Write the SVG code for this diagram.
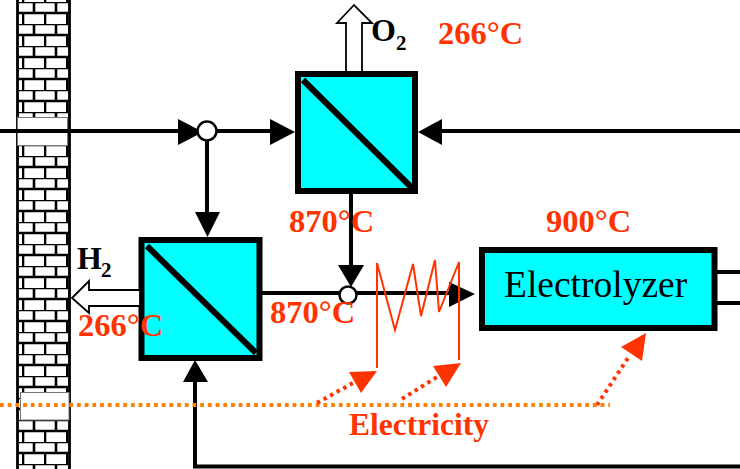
<svg xmlns="http://www.w3.org/2000/svg" width="740" height="469" viewBox="0 0 740 469">
<style>
.w{fill:none;stroke:#000;stroke-width:4}
.box{fill:#00ffff;stroke:#000;stroke-width:6}
.diag{stroke:#000;stroke-width:6;fill:none}
.hd{fill:#000;stroke:none}
.ring{fill:#fff;stroke:#000;stroke-width:2.5}
.hollow{fill:#fff;stroke:#000;stroke-width:1.8}
.open{fill:#fff;stroke:#777;stroke-width:1}
.or{fill:none;stroke:#ff8000;stroke-width:4;stroke-dasharray:3.8 3.9}
.rd{fill:none;stroke:#ff3300;stroke-width:4;stroke-dasharray:3.5 4}
.rl{fill:none;stroke:#ff3300;stroke-width:2}
.rh{fill:#ff3300}
text{font-family:"Liberation Serif","Times New Roman",serif}
.t{font-size:32.500px;font-weight:bold;fill:#ff3300}
.b{font-size:32px;font-weight:bold;fill:#000}
.s{font-size:21px;font-weight:bold;fill:#000}
</style>
<defs>
<pattern id="brick" patternUnits="userSpaceOnUse" x="0" y="2" width="22" height="22">
<rect width="22" height="22" fill="#fff"/>
<path d="M0 0H22M0 11H22M12 0V11M1 11V22" stroke="#000" stroke-width="2.600" fill="none"/>
</pattern>
</defs>
<g id="wall">
<rect x="17.500" y="-2" width="52" height="473" fill="url(#brick)" stroke="#000" stroke-width="2.800"/>
<rect x="17.500" y="117.500" width="50" height="28" class="open"/>
<rect x="20.500" y="392.500" width="48.500" height="27.500" class="open"/>
</g>
<g id="connectors">
<path class="w" d="M0 131H179M207 131H272M440 131H740"/>
<path class="w" d="M207 141V214M351 190V267M262 293H452"/>
<path class="w" d="M195 380V466.500H740"/>
<path class="w" d="M717 272H740M717 303H740"/>
<polygon class="hd" points="178,119 178,145 203,132"/>
<polygon class="hd" points="270,119 270,145 295,132"/>
<polygon class="hd" points="442,119 442,145 418,132"/>
<polygon class="hd" points="195,212 220,212 207.500,237"/>
<polygon class="hd" points="338,265 364,265 351,287"/>
<polygon class="hd" points="449,282 449,307 475,294"/>
<polygon class="hd" points="183,382 208,382 195,360"/>
<path class="or" d="M0 405H610"/>
<path class="rd" d="M317 403L353 383M402 399L437 377M597 405L628 358"/>
<polyline class="rl" points="377,368 377,263 395,330 413,264 421,316 435,260 439,312 459,262 459,360"/>
<polygon class="rh" points="349,372 377,371 361,393"/>
<polygon class="rh" points="433,366 461,363 446,387"/>
<polygon class="rh" points="646,333 621,347 642,361"/>
</g>
<g id="node-upper-exchanger">
<polygon class="hollow" points="354,5 337,23 346,23 346,74 362,74 362,23 372,23"/>
<rect class="box" x="298" y="74" width="117" height="117"/>
<line class="diag" x1="303" y1="80" x2="412" y2="188"/>
</g>
<g id="node-lower-exchanger">
<rect class="box" x="141.500" y="240" width="118" height="118"/>
<line class="diag" x1="147" y1="246" x2="256" y2="353"/>
<polygon class="hollow" points="72,298 89,281 89,290 140,290 140,306 89,306 89,313"/>
</g>
<g id="node-electrolyzer">
<rect class="box" x="482" y="250" width="232.500" height="78"/>
<text x="504" y="297" font-size="37.500" fill="#000">Electrolyzer</text>
</g>
<g id="node-junction-top"><circle class="ring" cx="207" cy="131" r="9.500"/></g>
<g id="node-junction-bottom"><circle class="ring" cx="348" cy="295" r="8.500"/></g>
<g id="labels">
<text class="b" x="371" y="41">O</text><text class="s" x="396" y="50">2</text>
<text class="b" x="77" y="269">H</text><text class="s" x="101" y="277">2</text>
<text class="t" x="438" y="44">266°C</text>
<text class="t" x="289" y="232">870°C</text>
<text class="t" x="546" y="232">900°C</text>
<text class="t" x="270" y="323">870°C</text>
<text class="t" x="78" y="336">266°C</text>
<text class="t" x="349" y="435" style="font-size:31.500px">Electricity</text>
</g>
</svg>
